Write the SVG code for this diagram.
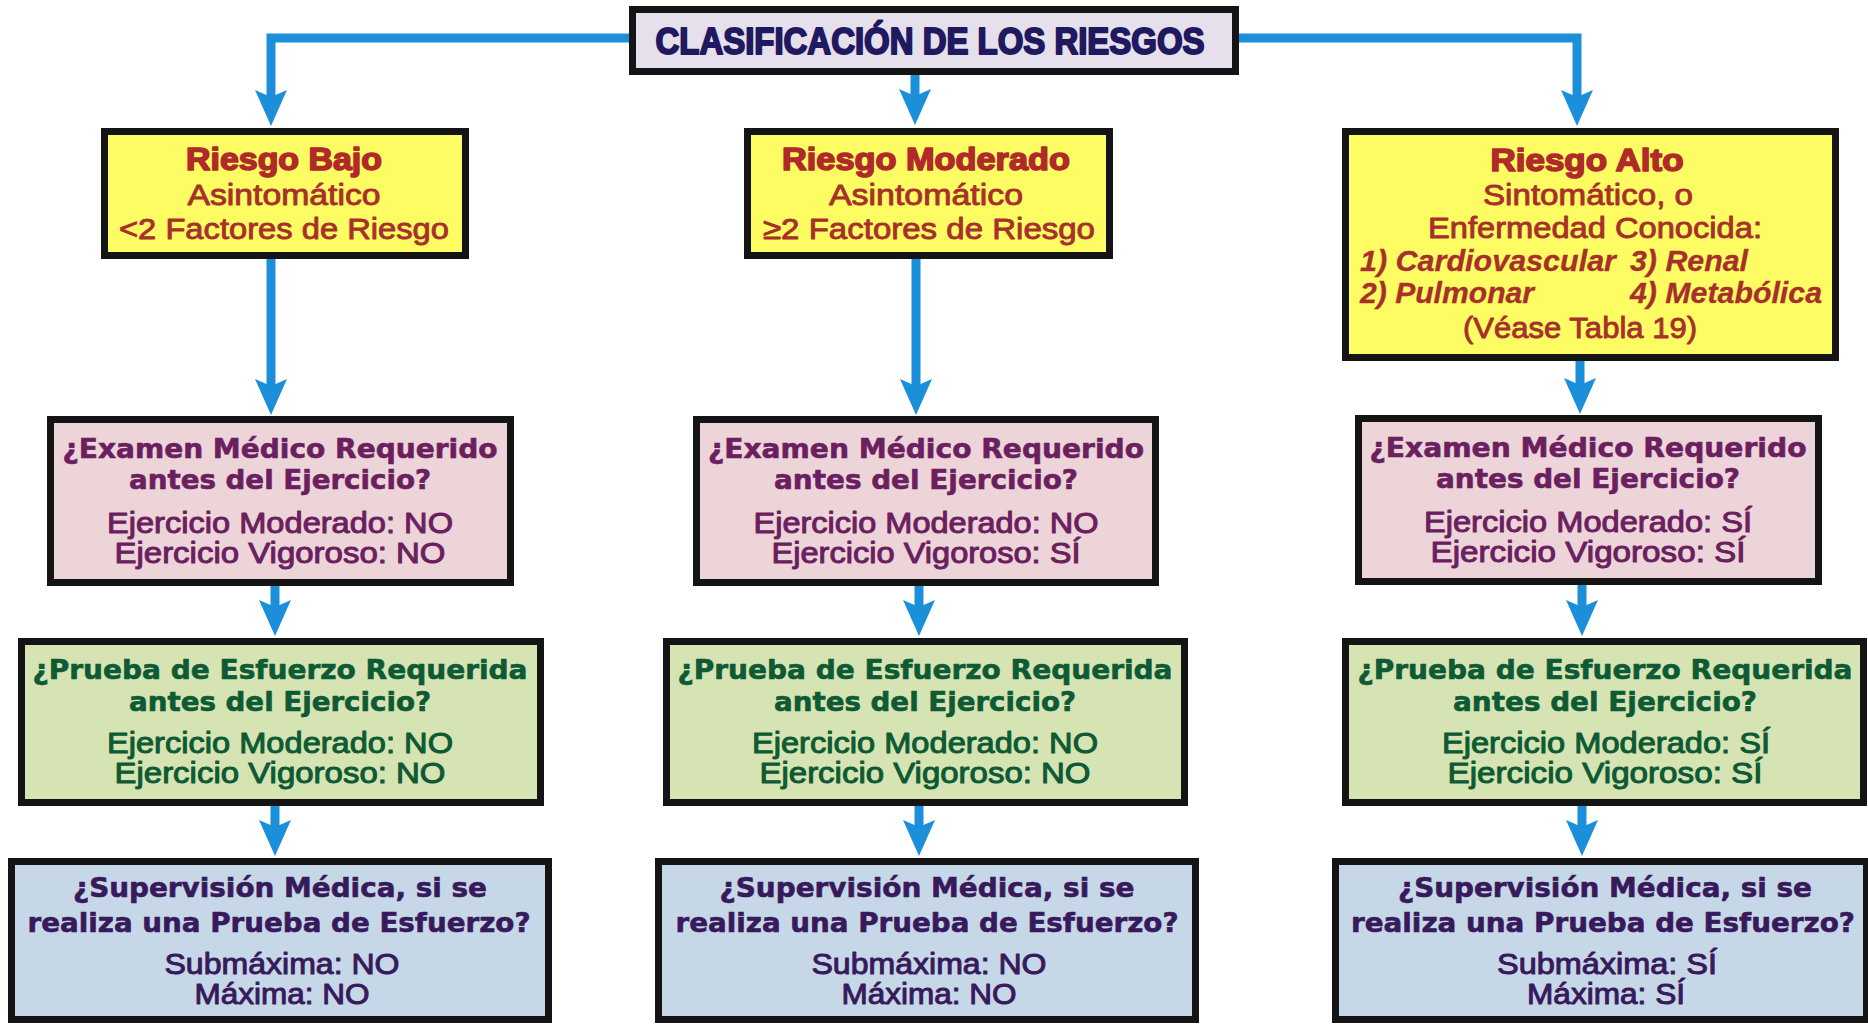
<svg xmlns="http://www.w3.org/2000/svg" width="1868" height="1025" viewBox="0 0 1868 1025">
<style>
.bg{fill:#ffffff}
.box{stroke:#141414;stroke-width:7}
.title{fill:#e6dfec}
.yel{fill:#fdfc62}
.pink{fill:#ecd4d9}
.green{fill:#d6e3b2}
.blue{fill:#c6d8e7}
.conn{fill:none;stroke:#1b8fd9;stroke-width:9;stroke-linejoin:miter}
.tt{font-family:"Liberation Sans",Arial,sans-serif;font-weight:bold;font-size:37px;fill:#1f1a60;stroke:#1f1a60;stroke-width:2;stroke-linejoin:round;text-anchor:middle}
.h{font-family:"Liberation Sans",Arial,sans-serif;font-weight:bold;font-size:32px;fill:#b02a2a;stroke:#b02a2a;stroke-width:1.6;stroke-linejoin:round;text-anchor:middle}
.s{font-family:"Liberation Sans",Arial,sans-serif;font-size:30px;fill:#a8302b;stroke:#a8302b;stroke-width:0.9;stroke-linejoin:round;text-anchor:middle}
.si{font-family:"Liberation Sans",Arial,sans-serif;font-style:italic;font-weight:bold;font-size:29.5px;fill:#a8302b;stroke:#a8302b;stroke-width:0.3;text-anchor:start}
.q{font-family:"DejaVu Sans",Verdana,sans-serif;font-weight:bold;font-size:26px;stroke-width:0.6;stroke-linejoin:round;text-anchor:middle}
.a{font-family:"Liberation Sans",Arial,sans-serif;font-size:29.5px;stroke-width:1;stroke-linejoin:round;text-anchor:middle}
.pk{fill:#6b1f5f;stroke:#6b1f5f}
.gr{fill:#0d5a34;stroke:#0d5a34}
.bl{fill:#381a5c;stroke:#381a5c}
</style>
<defs>
<marker id="ah" viewBox="0 0 36 32" refX="10" refY="16" markerWidth="36" markerHeight="32" markerUnits="userSpaceOnUse" orient="auto">
<path d="M0,0 L36,16 L0,32 L7,16 Z" fill="#1b8fd9"/>
</marker>
</defs>
<rect class="bg" x="0" y="0" width="1868" height="1025"/>

<g id="connectors">
<path class="conn" d="M632,38 H271 V100" marker-end="url(#ah)"/>
<path class="conn" d="M1236,38 H1577 V100" marker-end="url(#ah)"/>
<path class="conn" d="M915,75 V99" marker-end="url(#ah)"/>
<path class="conn" d="M271,258 V389" marker-end="url(#ah)"/>
<path class="conn" d="M916,258 V389" marker-end="url(#ah)"/>
<path class="conn" d="M1580,360 V388" marker-end="url(#ah)"/>
<path class="conn" d="M275,585 V610" marker-end="url(#ah)"/>
<path class="conn" d="M919,585 V610" marker-end="url(#ah)"/>
<path class="conn" d="M1582,584 V610" marker-end="url(#ah)"/>
<path class="conn" d="M275,805 V830" marker-end="url(#ah)"/>
<path class="conn" d="M919,805 V830" marker-end="url(#ah)"/>
<path class="conn" d="M1582,805 V830" marker-end="url(#ah)"/>
</g>

<g id="titulo">
<rect class="box title" x="632.5" y="9.5" width="603" height="62"/>
<text class="tt" x="930" y="54" textLength="549" lengthAdjust="spacingAndGlyphs">CLASIFICACIÓN DE LOS RIESGOS</text>
</g>

<g id="riesgo-bajo">
<rect class="box yel" x="104.5" y="131.5" width="361" height="124"/>
<text class="h" x="284" y="170" textLength="196" lengthAdjust="spacingAndGlyphs">Riesgo Bajo</text>
<text class="s" x="284" y="205" textLength="193" lengthAdjust="spacingAndGlyphs">Asintomático</text>
<text class="s" x="284" y="239" textLength="330" lengthAdjust="spacingAndGlyphs">&lt;2 Factores de Riesgo</text>
</g>

<g id="riesgo-moderado">
<rect class="box yel" x="747.5" y="131.5" width="362" height="124"/>
<text class="h" x="926" y="170" textLength="288" lengthAdjust="spacingAndGlyphs">Riesgo Moderado</text>
<text class="s" x="926" y="205" textLength="194" lengthAdjust="spacingAndGlyphs">Asintomático</text>
<text class="s" x="929" y="239" textLength="332" lengthAdjust="spacingAndGlyphs">≥2 Factores de Riesgo</text>
</g>

<g id="riesgo-alto">
<rect class="box yel" x="1345.5" y="131.5" width="490" height="226"/>
<text class="h" x="1587" y="171" textLength="193" lengthAdjust="spacingAndGlyphs">Riesgo Alto</text>
<text class="s" x="1588" y="205" textLength="210" lengthAdjust="spacingAndGlyphs">Sintomático, o</text>
<text class="s" x="1595" y="238" textLength="334" lengthAdjust="spacingAndGlyphs">Enfermedad Conocida:</text>
<text class="si" x="1360" y="271" textLength="256" lengthAdjust="spacingAndGlyphs">1) Cardiovascular</text>
<text class="si" x="1630" y="271" textLength="118" lengthAdjust="spacingAndGlyphs">3) Renal</text>
<text class="si" x="1360" y="303" textLength="174" lengthAdjust="spacingAndGlyphs">2) Pulmonar</text>
<text class="si" x="1630" y="303" textLength="192" lengthAdjust="spacingAndGlyphs">4) Metabólica</text>
<text class="s" x="1580" y="338" textLength="234" lengthAdjust="spacingAndGlyphs">(Véase Tabla 19)</text>
</g>

<g id="examen-bajo">
<rect class="box pink" x="50.5" y="419.5" width="460" height="163"/>
<text class="q pk" x="280" y="458" textLength="435" lengthAdjust="spacingAndGlyphs">¿Examen Médico Requerido</text>
<text class="q pk" x="280" y="489" textLength="302" lengthAdjust="spacingAndGlyphs">antes del Ejercicio?</text>
<text class="a pk" x="280" y="533" textLength="346" lengthAdjust="spacingAndGlyphs">Ejercicio Moderado: NO</text>
<text class="a pk" x="280" y="563" textLength="331" lengthAdjust="spacingAndGlyphs">Ejercicio Vigoroso: NO</text>
</g>

<g id="examen-moderado">
<rect class="box pink" x="696.5" y="419.5" width="459" height="163"/>
<text class="q pk" x="926" y="458" textLength="436" lengthAdjust="spacingAndGlyphs">¿Examen Médico Requerido</text>
<text class="q pk" x="926" y="489" textLength="304" lengthAdjust="spacingAndGlyphs">antes del Ejercicio?</text>
<text class="a pk" x="926" y="533" textLength="345" lengthAdjust="spacingAndGlyphs">Ejercicio Moderado: NO</text>
<text class="a pk" x="926" y="563" textLength="309" lengthAdjust="spacingAndGlyphs">Ejercicio Vigoroso: SÍ</text>
</g>

<g id="examen-alto">
<rect class="box pink" x="1358.5" y="418.5" width="460" height="163"/>
<text class="q pk" x="1588" y="457" textLength="437" lengthAdjust="spacingAndGlyphs">¿Examen Médico Requerido</text>
<text class="q pk" x="1588" y="488" textLength="304" lengthAdjust="spacingAndGlyphs">antes del Ejercicio?</text>
<text class="a pk" x="1588" y="532" textLength="328" lengthAdjust="spacingAndGlyphs">Ejercicio Moderado: SÍ</text>
<text class="a pk" x="1588" y="562" textLength="315" lengthAdjust="spacingAndGlyphs">Ejercicio Vigoroso: SÍ</text>
</g>

<g id="prueba-bajo">
<rect class="box green" x="21.5" y="641.5" width="519" height="161"/>
<text class="q gr" x="280" y="679" textLength="495" lengthAdjust="spacingAndGlyphs">¿Prueba de Esfuerzo Requerida</text>
<text class="q gr" x="280" y="711" textLength="302" lengthAdjust="spacingAndGlyphs">antes del Ejercicio?</text>
<text class="a gr" x="280" y="753" textLength="346" lengthAdjust="spacingAndGlyphs">Ejercicio Moderado: NO</text>
<text class="a gr" x="280" y="783" textLength="331" lengthAdjust="spacingAndGlyphs">Ejercicio Vigoroso: NO</text>
</g>

<g id="prueba-moderado">
<rect class="box green" x="666.5" y="641.5" width="518" height="161"/>
<text class="q gr" x="925" y="679" textLength="495" lengthAdjust="spacingAndGlyphs">¿Prueba de Esfuerzo Requerida</text>
<text class="q gr" x="925" y="711" textLength="302" lengthAdjust="spacingAndGlyphs">antes del Ejercicio?</text>
<text class="a gr" x="925" y="753" textLength="346" lengthAdjust="spacingAndGlyphs">Ejercicio Moderado: NO</text>
<text class="a gr" x="925" y="783" textLength="331" lengthAdjust="spacingAndGlyphs">Ejercicio Vigoroso: NO</text>
</g>

<g id="prueba-alto">
<rect class="box green" x="1345.5" y="641.5" width="518" height="161"/>
<text class="q gr" x="1605" y="679" textLength="495" lengthAdjust="spacingAndGlyphs">¿Prueba de Esfuerzo Requerida</text>
<text class="q gr" x="1605" y="711" textLength="304" lengthAdjust="spacingAndGlyphs">antes del Ejercicio?</text>
<text class="a gr" x="1606" y="753" textLength="328" lengthAdjust="spacingAndGlyphs">Ejercicio Moderado: SÍ</text>
<text class="a gr" x="1605" y="783" textLength="315" lengthAdjust="spacingAndGlyphs">Ejercicio Vigoroso: SÍ</text>
</g>

<g id="supervision-bajo">
<rect class="box blue" x="11.5" y="861.5" width="537" height="158"/>
<text class="q bl" x="280" y="897" textLength="414" lengthAdjust="spacingAndGlyphs">¿Supervisión Médica, si se</text>
<text class="q bl" x="279" y="932" textLength="503" lengthAdjust="spacingAndGlyphs">realiza una Prueba de Esfuerzo?</text>
<text class="a bl" x="282" y="974" textLength="235" lengthAdjust="spacingAndGlyphs">Submáxima: NO</text>
<text class="a bl" x="282" y="1004" textLength="175" lengthAdjust="spacingAndGlyphs">Máxima: NO</text>
</g>

<g id="supervision-moderado">
<rect class="box blue" x="658.5" y="861.5" width="537" height="158"/>
<text class="q bl" x="927" y="897" textLength="415" lengthAdjust="spacingAndGlyphs">¿Supervisión Médica, si se</text>
<text class="q bl" x="927" y="932" textLength="503" lengthAdjust="spacingAndGlyphs">realiza una Prueba de Esfuerzo?</text>
<text class="a bl" x="929" y="974" textLength="235" lengthAdjust="spacingAndGlyphs">Submáxima: NO</text>
<text class="a bl" x="929" y="1004" textLength="175" lengthAdjust="spacingAndGlyphs">Máxima: NO</text>
</g>

<g id="supervision-alto">
<rect class="box blue" x="1335.5" y="861.5" width="531" height="158"/>
<text class="q bl" x="1605" y="897" textLength="414" lengthAdjust="spacingAndGlyphs">¿Supervisión Médica, si se</text>
<text class="q bl" x="1603" y="932" textLength="504" lengthAdjust="spacingAndGlyphs">realiza una Prueba de Esfuerzo?</text>
<text class="a bl" x="1607" y="974" textLength="220" lengthAdjust="spacingAndGlyphs">Submáxima: SÍ</text>
<text class="a bl" x="1606" y="1004" textLength="158" lengthAdjust="spacingAndGlyphs">Máxima: SÍ</text>
</g>
</svg>
